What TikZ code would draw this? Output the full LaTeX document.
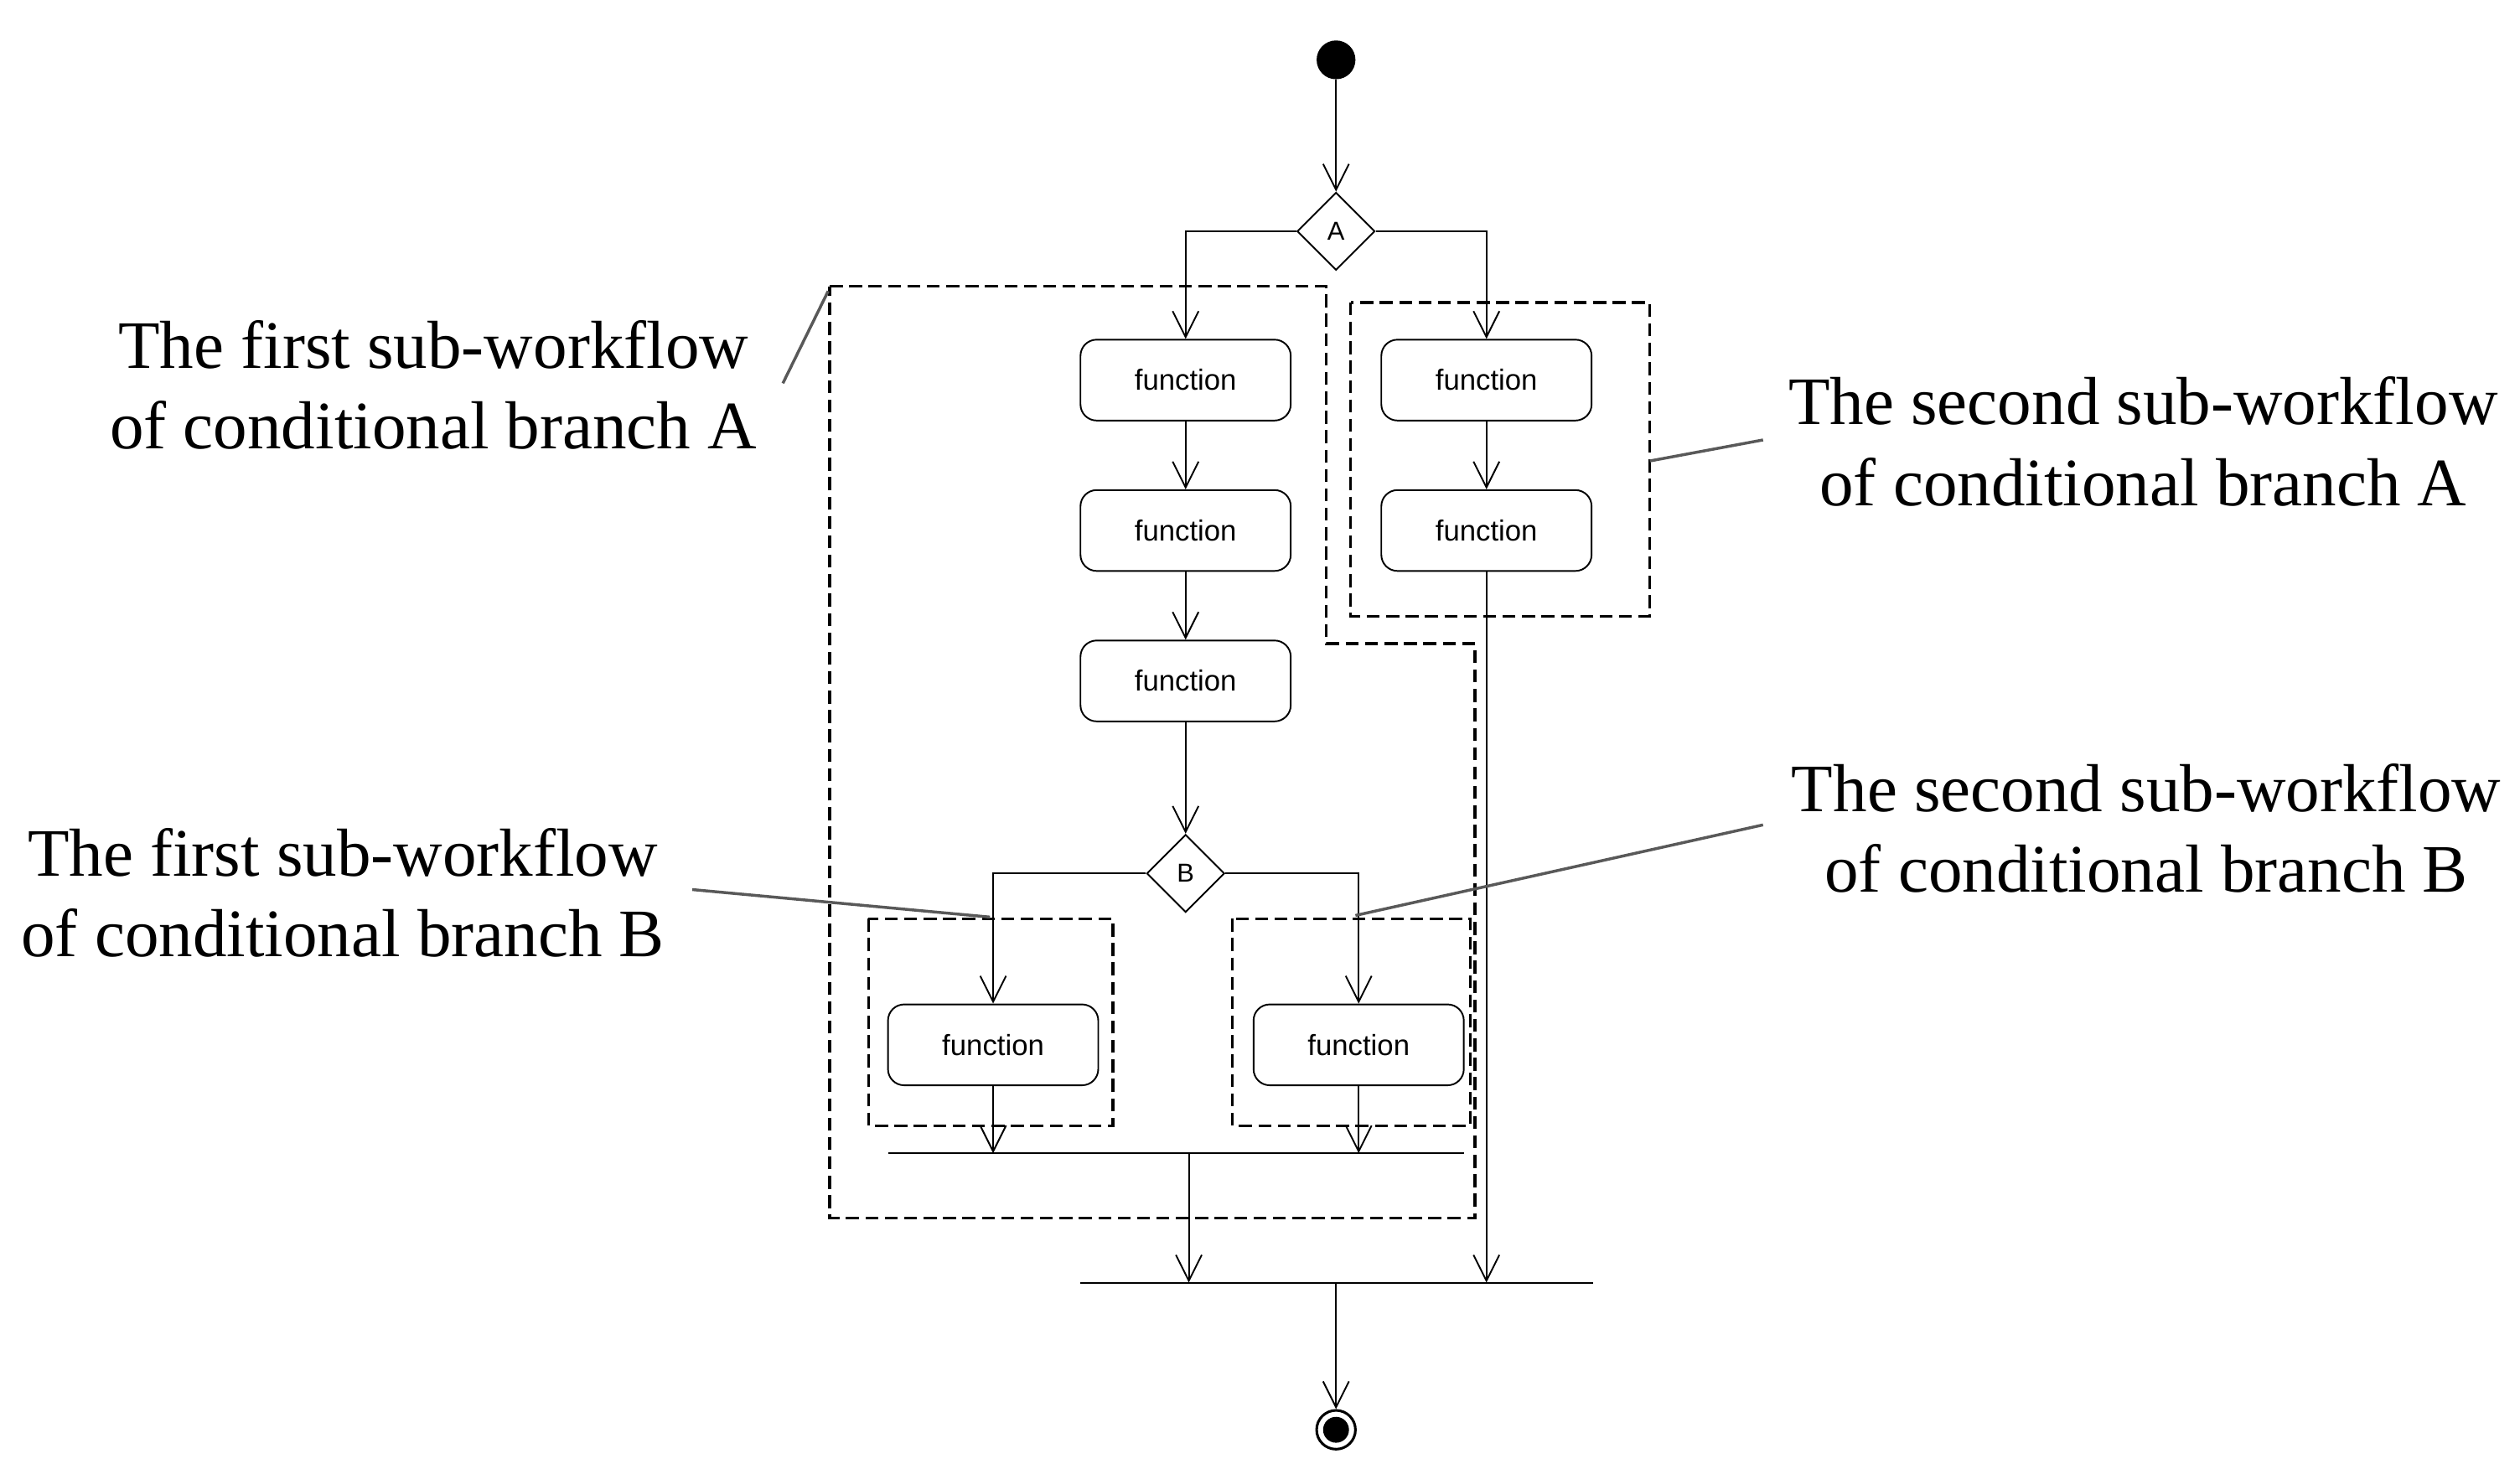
\documentclass[tikz,border=0pt]{standalone}
\usepackage{fontspec}
\setmainfont{Liberation Serif}
\newfontfamily\sansf{Liberation Sans}
\usetikzlibrary{arrows.meta,shapes.geometric}
\begin{document}
\begin{tikzpicture}[x=0.5pt,y=-0.5pt,
  fn/.style={draw,rounded corners=5pt,minimum width=65pt,minimum height=25pt,font=\sansf\fontsize{9}{10}\selectfont,line width=0.5pt},
  dia/.style={draw,diamond,minimum width=24pt,minimum height=24pt,inner sep=0pt,font=\sansf\fontsize{8}{9}\selectfont,line width=0.5pt},
  arr/.style={line width=0.5pt,-{Straight Barb[length=8pt,width=8pt]}},
  ln/.style={line width=0.5pt},
  dsh/.style={dashed,line width=0.9pt,dash pattern=on 4pt off 2pt},
  lead/.style={gray!70!black,line width=0.9pt},
  lab/.style={align=center,font=\fontsize{21}{25}\selectfont}]
\useasboundingbox (0,0) rectangle (1558,905);
\node[circle,fill=black,minimum size=12pt,inner sep=0pt] (s) at (826,37) {};
\node[dia] (A) at (826,143) {A};
\node[fn] (f1) at (733,235) {function};
\node[fn] (f2) at (733,328) {function};
\node[fn] (f3) at (733,421) {function};
\node[fn] (g1) at (919,235) {function};
\node[fn] (g2) at (919,328) {function};
\node[dia] (B) at (733,540) {B};
\node[fn] (h1) at (614,646) {function};
\node[fn] (h2) at (840,646) {function};
\coordinate (bl) at (549,713); \coordinate (br) at (905,713);
\coordinate (ml) at (668,793); \coordinate (mr) at (985,793);
\node[circle,draw,line width=0.8pt,minimum size=12pt,inner sep=0pt] (e) at (826,884) {};
\node[circle,fill=black,minimum size=8pt,inner sep=0pt] at (e) {};
\draw[arr] (s) -- (A);
\draw[arr] (A.west) -| (f1.north);
\draw[arr] (A.east) -| (g1.north);
\draw[arr] (f1) -- (f2);
\draw[arr] (f2) -- (f3);
\draw[arr] (g1) -- (g2);
\draw[arr] (f3) -- (B);
\draw[arr] (B.west) -| (h1.north);
\draw[arr] (B.east) -| (h2.north);
\draw[ln] (bl) -- (br);
\draw[ln] (ml) -- (mr);
\draw[arr] (h1.south) -- (h1.south |- bl);
\draw[arr] (h2.south) -- (h2.south |- bl);
\draw[arr] (735,713) -- (735,793);
\draw[arr] (g2.south) -- (g2.south |- ml);
\draw[arr] (826,793) -- (e);
\draw[dsh] (835,187) rectangle (1020,381);
\draw[dsh] (537,568) rectangle (688,696);
\draw[dsh] (762,568) rectangle (909,696);
\draw[dsh] (513,177) -- (820,177) -- (820,398) -- (912,398) -- (912,753) -- (513,753) -- cycle;
\node[lab] (la1) at (268,238) {The first sub-workflow\\of conditional branch A};
\node[lab] (la2) at (1325,273) {The second sub-workflow\\of conditional branch A};
\node[lab] (lb1) at (212,552) {The first sub-workflow\\of conditional branch B};
\node[lab] (lb2) at (1327,512) {The second sub-workflow\\of conditional branch B};
\draw[lead] (484,237) -- (512,180);
\draw[lead] (1020,285) -- (1090,272);
\draw[lead] (428,550) -- (612,567);
\draw[lead] (838,566) -- (1090,510);
\end{tikzpicture}
\end{document}
